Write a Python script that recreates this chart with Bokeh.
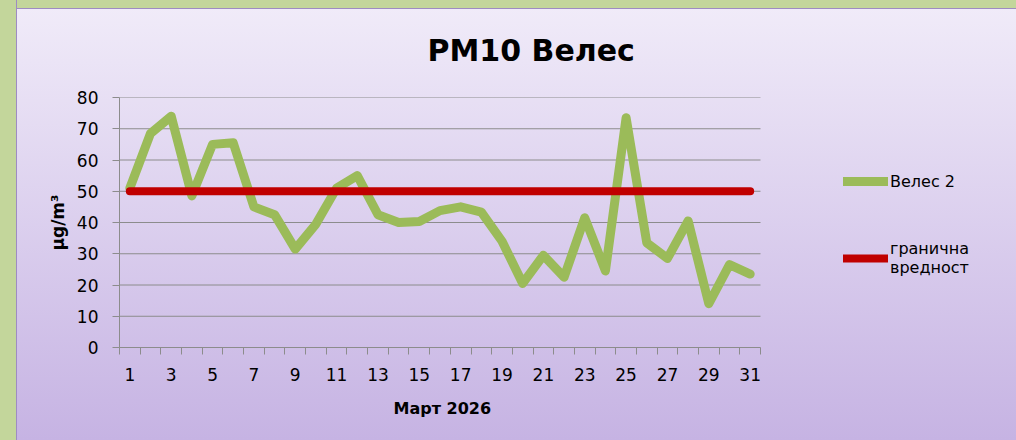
from bokeh.plotting import figure
from bokeh.models import Legend, LegendItem, FixedTicker, Range1d, Title
from bokeh.embed import file_html
from bokeh.resources import INLINE

# ---- data ----
days = list(range(1, 32))
veles2 = [51, 68.5, 74, 48.5, 65, 65.5, 45, 42.5, 31.5, 39.5,
          51, 55, 42.5, 40, 40.3, 43.8, 45, 43.3, 34, 20.5,
          29.5, 22.5, 41.5, 24.5, 73.5, 33.5, 28.5, 40.5, 14, 26.5, 23.5]
limit_value = [50, 50, 50, 50, 50, 50, 50, 50, 50, 50,
               50, 50, 50, 50, 50, 50, 50, 50, 50, 50,
               50, 50, 50, 50, 50, 50, 50, 50, 50, 50, 50]
x_tick_days = [1, 3, 5, 7, 9, 11, 13, 15, 17, 19, 21, 23, 25, 27, 29, 31]
y_ticks = [0, 10, 20, 30, 40, 50, 60, 70, 80]
title_text = "PM10 Велес"
x_title = "Март 2026"
y_title = "µg/m³"
series_name = "Велес 2"
limit_name = "гранична\nвредност"

FONT = "DejaVu Sans"
GREEN = "#9BBB59"
RED = "#C00000"
GRID = "#8C8C8C"

# layout constants (pixels)
W, H = 1016, 440
LEFT, TOP, BOTTOM = 119, 97, 93
AXIS_PX = 641                      # pixel length of the category axis
x_lo = days[0] - 0.5
x_hi = days[-1] + 0.5
# the frame runs to the right edge so the legend (inside the frame) is not clipped
x_far = x_lo + (x_hi - x_lo) * (W - LEFT) / AXIS_PX

p = figure(width=W, height=H, output_backend="svg", toolbar_location=None,
           x_range=Range1d(x_lo, x_far), y_range=Range1d(0, 80),
           min_border_left=LEFT, min_border_right=0, min_border_top=TOP, min_border_bottom=BOTTOM)

p.background_fill_color = None
p.border_fill_color = None
p.outline_line_color = None
p.styles = {
    "background": ("linear-gradient(to right, #C3D69B 16px, #9E8CC2 16px, #9E8CC2 17px, transparent 17px), "
                   "linear-gradient(to bottom, #C3D69B 8px, #9E8CC2 8px, #9E8CC2 9px, transparent 9px), "
                   "linear-gradient(to bottom, #F1ECF9, #C6B3E3)"),
}

# horizontal gridlines, limited to the category axis extent
p.segment(x0=x_lo, x1=x_hi, y0=y_ticks[1:], y1=y_ticks[1:], line_color=GRID, line_width=1)

r_green = p.line(days, veles2, line_color=GREEN, line_width=9, line_join="round", line_cap="round")
r_red = p.line(days, limit_value, line_color=RED, line_width=8, line_join="round", line_cap="round")

# x axis
xa = p.xaxis[0]
xa.bounds = (x_lo, x_hi)
xa.ticker = FixedTicker(ticks=x_tick_days, minor_ticks=[d - 0.5 for d in days] + [days[-1] + 0.5])
xa.major_tick_line_color = None
xa.major_tick_out = 7
xa.major_tick_in = 0
xa.minor_tick_out = 7
xa.minor_tick_in = 0
xa.minor_tick_line_color = GRID
xa.axis_line_color = GRID
xa.major_label_text_font = FONT
xa.major_label_text_font_size = "17px"
xa.major_label_text_color = "black"
xa.major_label_standoff = 13

# x axis title, centred under the category axis
p.add_layout(Title(text=x_title, align="left", offset=274, text_font=FONT,
                   text_font_style="bold", text_font_size="16px", text_color="black",
                   standoff=26), "below")

# y axis
ya = p.yaxis[0]
ya.ticker = FixedTicker(ticks=y_ticks, minor_ticks=[])
ya.major_tick_out = 7
ya.major_tick_in = 0
ya.major_tick_line_color = GRID
ya.axis_line_color = GRID
ya.major_label_text_font = FONT
ya.major_label_text_font_size = "17px"
ya.major_label_text_color = "black"
ya.major_label_standoff = 14
ya.axis_label = y_title
ya.axis_label_text_font = FONT
ya.axis_label_text_font_style = "bold"
ya.axis_label_text_font_size = "17px"
ya.axis_label_text_color = "black"
ya.axis_label_standoff = 6

p.xgrid.grid_line_color = None
p.ygrid.grid_line_color = None

# title
p.title.text = title_text
p.title.align = "left"
p.title.offset = 308
p.title.text_font = FONT
p.title.text_font_style = "bold"
p.title.text_font_size = "30px"
p.title.text_color = "black"
p.title.standoff = 60

legend = Legend(items=[LegendItem(label=series_name, renderers=[r_green]),
                       LegendItem(label=limit_name, renderers=[r_red])],
                location=(724, 70), glyph_width=45, glyph_height=20, label_standoff=2,
                spacing=48, padding=0, margin=0, border_line_color=None,
                background_fill_alpha=0, label_text_font=FONT, label_text_font_size="16px",
                label_text_color="black")
p.add_layout(legend)

open("out.html", "w").write(file_html(p, INLINE))
